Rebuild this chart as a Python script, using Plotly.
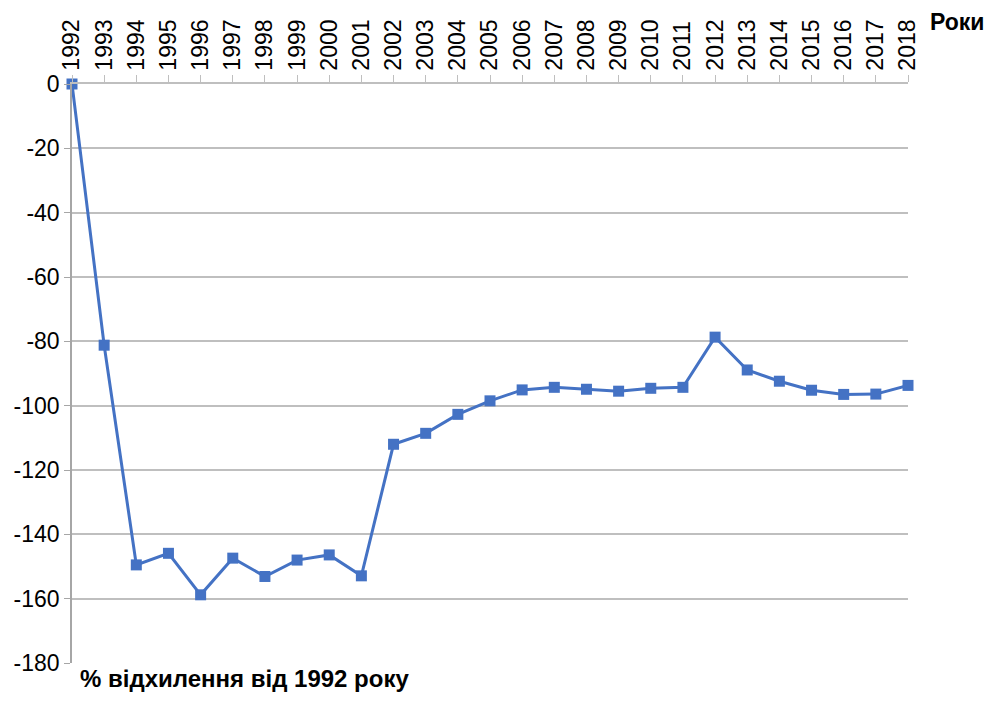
import plotly.graph_objects as go

years = [str(y) for y in range(1992, 2019)]
deviation = [0, -81.2, -149.5, -145.9, -158.8, -147.4, -153.1, -148.0, -146.4,
             -152.9, -112.0, -108.6, -102.7, -98.5, -95.1, -94.3, -94.9, -95.5,
             -94.6, -94.3, -78.7, -88.9, -92.4, -95.2, -96.5, -96.4, -93.7]
y_ticks = list(range(-180, 1, 20))
y_labels = [str(v) for v in y_ticks]

fig = go.Figure()
fig.add_trace(go.Scatter(
    x=years, y=deviation, mode="lines+markers",
    line=dict(color="#4472C4", width=3),
    marker=dict(symbol="square", size=11, color="#4472C4"),
    cliponaxis=False, showlegend=False))

fig.update_xaxes(
    type="category", side="top", range=[0, len(years) - 1],
    tickangle=-90, ticks="outside", ticklen=7, tickcolor="#BFBFBF",
    showline=True, linecolor="#BFBFBF", linewidth=1.5, showgrid=False,
    automargin=False, tickfont=dict(size=23, color="black"))
fig.update_yaxes(
    range=[-180, 0], tickvals=y_ticks, ticktext=y_labels, ticks="outside",
    ticklen=6, tickcolor="#A6A6A6", showline=True, linecolor="#A6A6A6",
    linewidth=1.5, gridcolor="#BFBFBF", gridwidth=1.5, zeroline=False,
    automargin=False, tickfont=dict(size=23, color="black"))

fig.add_annotation(text="<b>Роки</b>", xref="paper", yref="paper",
                   x=1.0933, y=1.107, xanchor="right", yanchor="middle",
                   showarrow=False, font=dict(size=23, color="black"))
fig.add_annotation(text="<b>% відхилення від 1992 року</b>", xref="paper", yref="paper",
                   x=0.007, y=-0.0535, xanchor="left", yanchor="bottom",
                   showarrow=False, font=dict(size=24, color="black"))

# page body has an 8px margin, so the figure is kept small enough to fit
fig.update_layout(
    width=980, height=686,
    margin=dict(l=64, r=80, t=76, b=31),
    plot_bgcolor="white", paper_bgcolor="white",
    font=dict(family="Liberation Sans, Arial, sans-serif", size=22, color="black"))

fig.write_html("out.html")
